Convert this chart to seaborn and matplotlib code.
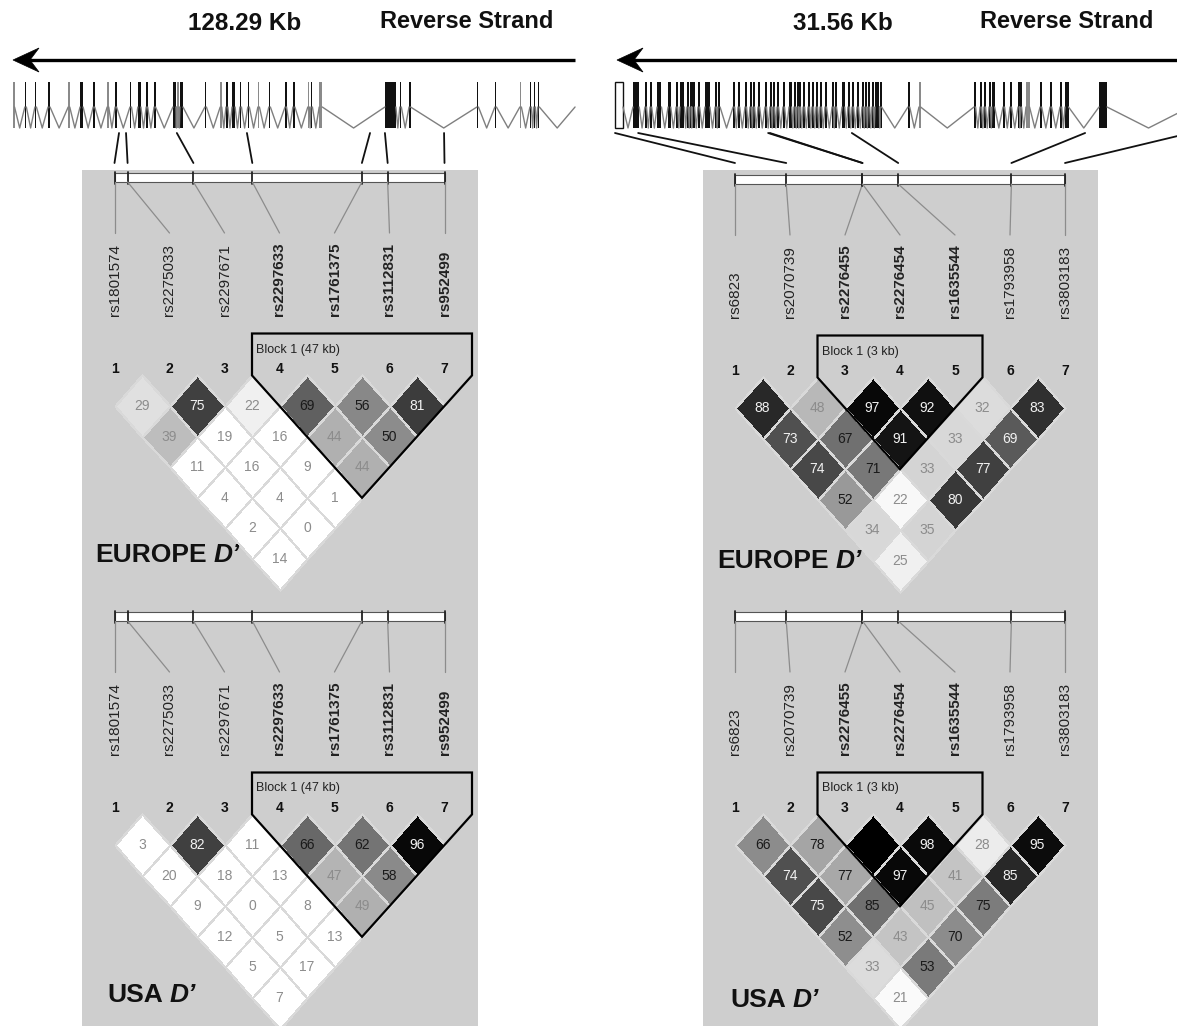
import numpy as np
import matplotlib
matplotlib.use("Agg")
import matplotlib.pyplot as plt
import seaborn as sns
from matplotlib.colors import to_rgba
from matplotlib.patches import Rectangle, Polygon
from matplotlib.transforms import Affine2D

# ---------------- data ----------------
left_snps = ["rs1801574", "rs2275033", "rs2297671", "rs2297633", "rs1761375", "rs3112831", "rs952499"]
right_snps = ["rs6823", "rs2070739", "rs2276455", "rs2276454", "rs1635544", "rs1793958", "rs3803183"]
left_bold = [4, 5, 6, 7]
right_bold = [3, 4, 5]
left_block = (4, 7, "Block 1 (47 kb)")
right_block = (3, 5, "Block 1 (3 kb)")

# region length shown on the gene map
left_span_kb = 128.29
right_span_kb = 31.56

# SNP positions on the Haploview marker bar (kb from first SNP)
left_bar_kb = [0, 3.2, 19.3, 33.7, 60.5, 66.8, 80.7]
right_bar_kb = [0, 4.3, 10.7, 10.7, 13.7, 23.2, 27.7]

# SNP positions on the gene map (kb from left end of region)
left_map_kb = [24.2, 25.8, 37.4, 53.4, 81.5, 84.9, 98.4]
right_map_kb = [0.0, 1.3, 8.6, 8.7, 13.3, 26.4, 32.3]

# exons on the gene map: start (kb), length (kb), kind (c=coding, n=non coding, u=utr)
left_exon_kb = [0.0, 2.7, 5.0, 8.0, 12.6, 15.3, 18.3, 21.5, 23.3, 26.7, 28.5, 30.4, 32.2, 36.5,
                37.4, 38.1, 43.8, 47.3, 48.6, 50.0, 51.8, 53.6, 55.9, 58.4, 62.1, 63.9, 67.3, 68.0,
                69.9, 84.9, 86.7, 88.3, 90.4, 105.9, 110.0, 115.7, 118.0, 118.9, 119.8, 128.3]
left_exon_len = [0.35, 0.35, 0.35, 0.45, 0.35, 0.7, 0.35, 0.35, 0.35, 0.35, 0.7, 0.35, 0.35, 0.7,
                 0.45, 0.7, 0.35, 0.35, 0.45, 0.7, 0.35, 0.35, 0.35, 0.35, 0.35, 0.45, 0.35, 0.35,
                 0.7, 1.8, 0.7, 0.35, 0.35, 0.35, 0.35, 0.35, 0.35, 0.35, 0.35, 0.35]
left_exon_kind = list("ncccnccncccccc" "nccnccccncccncnccccccncc" "c")

right_exon_kb = [0.00, 1.01, 1.68, 1.97, 2.36, 2.98, 3.43, 3.65, 4.04, 4.21, 4.32, 4.66, 5.05, 5.62,
                 5.78, 6.63, 6.91, 7.30, 7.58, 7.75, 8.03, 8.42, 8.70, 8.87, 9.10, 9.43, 9.77, 10.05,
                 10.22, 10.33, 10.56, 10.84, 11.06, 11.29, 11.51, 11.79, 12.19, 12.35, 12.75, 13.08,
                 13.31, 13.59, 13.87, 14.04, 14.21, 14.43, 14.60, 14.88, 16.45, 17.07, 20.16, 20.50,
                 20.72, 21.00, 21.17, 21.79, 22.18, 22.63, 22.74, 23.08, 23.87, 24.43, 24.99, 25.27,
                 27.18, 32.29]
right_exon_len = [0.45, 0.35, 0.09, 0.09, 0.25, 0.15, 0.09, 0.25, 0.09, 0.09, 0.15, 0.09, 0.28, 0.09,
                  0.12, 0.09, 0.09, 0.09, 0.09, 0.09, 0.09, 0.09, 0.09, 0.09, 0.09, 0.09, 0.15, 0.09,
                  0.09, 0.09, 0.09, 0.09, 0.09, 0.09, 0.09, 0.09, 0.09, 0.09, 0.15, 0.09,
                  0.09, 0.09, 0.09, 0.09, 0.09, 0.09, 0.25, 0.09, 0.1, 0.09, 0.09, 0.09,
                  0.09, 0.09, 0.15, 0.09, 0.09, 0.09, 0.09, 0.2, 0.09, 0.09, 0.1, 0.2,
                  0.45, 0.3]
right_exon_kind = ["u"] + ["c"] * 48 + ["n"] + ["c"] * 9 + ["n"] + ["c"] * 6

# D' (x100) by distance between markers, and grey level of each cell (0 black - 255 white)
left_europe_d = [[29, 75, 22, 69, 56, 81], [39, 19, 16, 44, 50], [11, 16, 9, 44], [4, 4, 1], [2, 0], [14]]
left_europe_shade = [[224, 64, 240, 96, 136, 60], [189, 255, 255, 176, 140], [255, 255, 255, 176],
                     [255, 255, 255], [255, 255], [255]]
left_usa_d = [[3, 82, 11, 66, 62, 96], [20, 18, 13, 47, 58], [9, 0, 8, 49], [12, 5, 13], [5, 17], [7]]
left_usa_shade = [[255, 64, 255, 104, 116, 8], [255, 255, 255, 180, 138], [255, 255, 255, 176],
                  [255, 255, 255], [255, 255], [255]]
right_europe_d = [[88, 48, 97, 92, 32, 83], [73, 67, 91, 33, 69], [74, 71, 33, 77], [52, 22, 80], [34, 35], [25]]
right_europe_shade = [[40, 184, 8, 16, 220, 48], [80, 112, 20, 216, 90], [72, 120, 212, 64],
                      [153, 248, 56], [216, 212], [240]]
right_usa_d = [[66, 78, 100, 98, 28, 95], [74, 77, 97, 41, 85], [75, 85, 45, 75], [52, 43, 70], [33, 53], [21]]
right_usa_shade = [[140, 165, 0, 10, 236, 12], [80, 168, 8, 196, 40], [72, 112, 192, 124],
                   [142, 196, 140], [220, 122], [250]]

# ---------------- layout ----------------
W, HT = 1177, 1026
MAP_W = 562
DX, H = 55, 30.6
GENE_TOP, GENE_MID, GENE_BOT = 82, 107, 128
EDGE = "#d9d9d9"
PANEL_GREY = "#cecece"

panels = [
    dict(snps=left_snps, bold=left_bold, block=left_block, bar_kb=left_bar_kb, map_kb=left_map_kb,
         span=left_span_kb, exon_kb=left_exon_kb, exon_len=left_exon_len, exon_kind=left_exon_kind,
         map_x0=13, col_x0=114.5, grey=(82, 478), title_x=(245, 467), arrow=(575, 13)),
    dict(snps=right_snps, bold=right_bold, block=right_block, bar_kb=right_bar_kb, map_kb=right_map_kb,
         span=right_span_kb, exon_kb=right_exon_kb, exon_len=right_exon_len, exon_kind=right_exon_kind,
         map_x0=615, col_x0=735, grey=(703, 1098), title_x=(843, 1067), arrow=(1185, 617)),
]
sections = [
    dict(panel=0, name="EUROPE", d=left_europe_d, shade=left_europe_shade, c=406, label=(95, 555)),
    dict(panel=0, name="USA", d=left_usa_d, shade=left_usa_shade, c=845, label=(107, 995)),
    dict(panel=1, name="EUROPE", d=right_europe_d, shade=right_europe_shade, c=408, label=(717, 561)),
    dict(panel=1, name="USA", d=right_usa_d, shade=right_usa_shade, c=845, label=(730, 1000)),
]

sns.set_theme(style="white")
plt.rcParams["font.family"] = ["Liberation Sans", "DejaVu Sans"]

fig = plt.figure(figsize=(W / 100, HT / 100), dpi=100)
ax = fig.add_axes([0, 0, 1, 1])
ax.set_xlim(0, W)
ax.set_ylim(HT, 0)
ax.set_axis_off()
hm = fig.add_axes([0, 0, 1, 1])
ov = fig.add_axes([0, 0, 1, 1])
ov.set_xlim(0, W)
ov.set_ylim(HT, 0)
ov.set_axis_off()


def kb_to_px(p, kb):
    return p["map_x0"] + np.asarray(kb, dtype=float) / p["span"] * MAP_W


def draw_gene(p):
    xs = kb_to_px(p, p["exon_kb"])
    ws = np.asarray(p["exon_len"]) / p["span"] * MAP_W
    for x0, w0, x1 in zip(xs[:-1], ws[:-1], xs[1:]):
        s = x0 + max(w0, 1.5)
        if x1 > s:
            ax.plot([s, (s + x1) / 2, x1], [GENE_MID, GENE_BOT, GENE_MID], color="#7f7f7f", lw=1.0)
    for x, w, k in zip(xs, ws, p["exon_kind"]):
        w = max(w, 1.5)
        if k == "u":
            ax.add_patch(Rectangle((x, GENE_TOP), w, GENE_BOT - GENE_TOP, facecolor="white",
                                   edgecolor="#111", lw=1.0))
        else:
            ax.add_patch(Rectangle((x, GENE_TOP), w, GENE_BOT - GENE_TOP, lw=0,
                                   facecolor="#111" if k == "c" else "#8a8a8a"))


def draw_arrow(x_from, x_to, y=60):
    ax.plot([x_from, x_to + 15], [y, y], color="black", lw=2.4, solid_capstyle="butt")
    ax.add_patch(Polygon([(x_to, y), (x_to + 26, y - 12), (x_to + 17, y), (x_to + 26, y + 12)],
                         closed=True, facecolor="black", edgecolor="black", lw=0.5))


def text_colour(s):
    if s < 92:
        return "#f2f2f2"
    if s < 175:
        return "#1a1a1a"
    return "#8c8c8c"


for p in panels:
    g0, g1 = p["grey"]
    ax.add_patch(Rectangle((g0, 170), g1 - g0, HT - 165, facecolor=PANEL_GREY, edgecolor="none"))
    draw_arrow(*p["arrow"])
    ax.text(p["title_x"][0], 23, f"{p['span']:.2f} Kb", fontsize=17.5, fontweight="bold",
            ha="center", va="center", color="#111")
    ax.text(p["title_x"][1], 22, "Reverse Strand", fontsize=17, fontweight="bold",
            ha="center", va="center", color="#111")
    draw_gene(p)
    bar = p["col_x0"] + np.asarray(p["bar_kb"]) / p["bar_kb"][-1] * 6 * DX
    for g, b in zip(kb_to_px(p, p["map_kb"]), bar):
        ax.plot([g, b], [133, 163], color="#111", lw=1.3)

for sec in sections:
    p = panels[sec["panel"]]
    c = sec["c"]
    cols = p["col_x0"] + DX * np.arange(len(p["snps"]))
    bar = p["col_x0"] + np.asarray(p["bar_kb"]) / p["bar_kb"][-1] * 6 * DX
    ybar = c - 233

    # marker bar, connector lines and SNP names
    ax.add_patch(Rectangle((bar[0], ybar), bar[-1] - bar[0], 9, facecolor="white",
                           edgecolor="#555", lw=0.8))
    for b, x in zip(bar, cols):
        ax.plot([b, b], [ybar - 1.5, ybar + 10.5], color="#222", lw=1.3)
        ax.plot([b, x], [ybar + 9, c - 173], color="#8c8c8c", lw=0.9)
    for k, (x, name) in enumerate(zip(cols, p["snps"]), start=1):
        ax.text(x, c - 90, name, rotation=90, ha="center", va="bottom", fontsize=11,
                fontweight="bold" if k in p["bold"] else "normal", color="#222")
        ax.text(x, c - 37, str(k), ha="center", va="center", fontsize=10, fontweight="bold",
                color="#111")

    # LD triangle: seaborn heatmap of the upper triangle, turned 45 degrees
    n = len(p["snps"])
    shade = np.full((n, n), np.nan)
    annot = np.full((n, n), "", dtype=object)
    for k, (drow, srow) in enumerate(zip(sec["d"], sec["shade"]), start=1):
        for i, (d, s) in enumerate(zip(drow, srow)):
            shade[i, i + k] = s
            annot[i, i + k] = "" if d == 100 else str(d)
    mask = np.isnan(shade)
    t0 = len(hm.texts)
    sns.heatmap(shade, mask=mask, cmap="gray", vmin=0, vmax=255, annot=annot, fmt="",
                cbar=False, ax=hm, linewidths=0.8, linecolor=EDGE, annot_kws={"fontsize": 10})
    mesh = hm.collections[-1]
    tr = Affine2D.from_values(DX / 2, H, DX / 2, -H, p["col_x0"] - DX / 2, c - H) + ax.transData
    mesh.set_transform(tr)
    mesh.set_antialiased(True)
    edges = np.array([to_rgba(EDGE, 0 if m else 1) for m in mask.ravel()])
    mesh.set_edgecolor(edges)
    for t in hm.texts[t0:]:
        u, v = t.get_position()
        t.set_color(text_colour(shade[int(v), int(u)]))
        t.set_transform(tr)

    # haplotype block outline
    a, b, btxt = p["block"]
    xa, xb = cols[a - 1], cols[b - 1]
    top, ytop = c - 72.5, c - H
    verts = [(xa - DX / 2, top), (xb + DX / 2, top), (xb + DX / 2, ytop),
             ((xa + xb) / 2, ytop + (b - a + 1) * H), (xa - DX / 2, ytop)]
    ov.add_patch(Polygon(verts, closed=True, fill=False, edgecolor="black", lw=1.6,
                         joinstyle="miter"))
    ov.text(xa - DX / 2 + 4, c - 56.5, btxt, fontsize=9, ha="left", va="center", color="#222")

    # population label
    lx, ly = sec["label"]
    t = ax.text(lx, ly, sec["name"], fontsize=19, fontweight="bold", ha="left", va="center",
                color="#111")
    ax.annotate("D\u2019", xy=(1, 0.5), xycoords=t, xytext=(5, 0), textcoords="offset points",
                ha="left", va="center", fontsize=19, fontweight="bold", fontstyle="italic",
                color="#111")

hm.set_axis_off()
fig.savefig("out.png", dpi=100)
